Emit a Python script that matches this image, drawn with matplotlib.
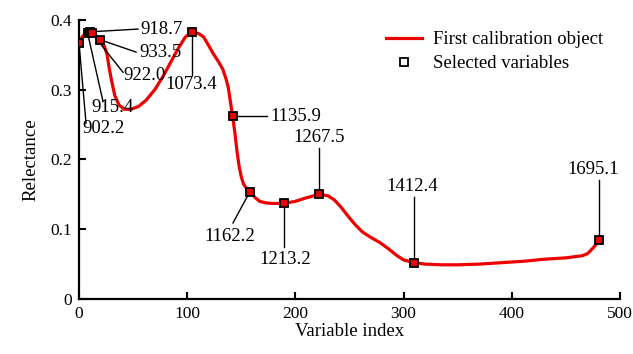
import matplotlib
matplotlib.use('Agg')
import matplotlib.pyplot as plt
from matplotlib.lines import Line2D

plt.rcParams['font.family'] = ['Liberation Serif', 'DejaVu Serif']

# spectrum of the first calibration object
curve_x = [0, 3, 6, 9, 12, 16, 19, 22, 24, 26, 28, 30, 33, 37, 42, 48, 55, 62, 70, 78, 86,
           92, 98, 104, 110, 115, 120, 124, 129, 133, 136, 138, 140, 142, 144, 146, 148,
           150, 152, 155, 158, 163, 167, 172, 178, 189, 200, 210, 222, 230, 236, 242, 248,
           255, 262, 270, 278, 286, 294, 300, 310, 320, 335, 350, 370, 390, 410, 430, 450,
           465, 470, 475, 481]
curve_y = [0.367, 0.376, 0.381, 0.383, 0.381, 0.377, 0.372, 0.368, 0.360, 0.350, 0.330,
           0.314, 0.292, 0.278, 0.272, 0.272, 0.276, 0.285, 0.300, 0.320, 0.343, 0.360,
           0.375, 0.383, 0.381, 0.376, 0.363, 0.352, 0.340, 0.329, 0.315, 0.303, 0.282,
           0.262, 0.239, 0.212, 0.190, 0.175, 0.165, 0.158, 0.154, 0.145, 0.140, 0.138,
           0.137, 0.137, 0.140, 0.145, 0.150, 0.148, 0.142, 0.132, 0.120, 0.107, 0.096,
           0.088, 0.081, 0.072, 0.062, 0.056, 0.052, 0.050, 0.049, 0.049, 0.050, 0.052,
           0.054, 0.057, 0.059, 0.062, 0.065, 0.073, 0.0846]

# selected variables
sel_x = [0, 8, 10, 12, 19, 104, 142, 158, 189, 222, 310, 481]
sel_y = [0.367, 0.381, 0.383, 0.381, 0.372, 0.383, 0.262, 0.154, 0.137, 0.150, 0.052, 0.0846]
sel_labels = ['902.2', '915.4', '918.7', '922.0', '933.5', '1073.4', '1135.9',
              '1162.2', '1213.2', '1267.5', '1412.4', '1695.1']

# label layout: end of leader line, text position, horizontal alignment
leader_end = [(6.5, 0.252), (22.2, 0.283), (54.5, 0.387), (40.7, 0.325), (52.7, 0.354),
              (104, 0.321), (173.8, 0.262), (142.3, 0.109), (189, 0.0746), (222, 0.2165),
              (310, 0.146), (481, 0.171)]
text_pos = [(22.2, 0.244), (30.5, 0.274), (75.8, 0.386), (60.1, 0.321), (74.9, 0.353),
            (104, 0.307), (176.5, 0.262), (139.6, 0.089), (191, 0.056), (222, 0.231),
            (308, 0.161), (475, 0.185)]
text_ha = ['center'] * 6 + ['left'] + ['center'] * 5

fig = plt.figure(figsize=(6.33, 3.54), dpi=100)
ax = fig.add_axes([0.1248, 0.1554, 0.8547, 0.7881])

ax.plot(curve_x, curve_y, color='#ee0000', lw=2.3, zorder=2, solid_capstyle='round',
        solid_joinstyle='round')

for (mx, my), (lx, ly) in zip(zip(sel_x, sel_y), leader_end):
    ax.plot([mx, lx], [my, ly], color='black', lw=1.0, zorder=3)
for lab, (tx, ty), ha in zip(sel_labels, text_pos, text_ha):
    ax.text(tx, ty, lab, ha=ha, va='center', fontsize=13.5, zorder=4)

ax.plot(sel_x, sel_y, ls='none', marker='s', ms=5.5, mfc='#ee0000', mec='black',
        mew=1.3, zorder=5)

ax.set_xlim(0, 500)
ax.set_ylim(0, 0.4)
ax.set_xticks([0, 100, 200, 300, 400, 500])
ax.set_yticks([0, 0.1, 0.2, 0.3, 0.4])
ax.set_yticklabels(['0', '0.1', '0.2', '0.3', '0.4'])
for s in ['top', 'right']:
    ax.spines[s].set_visible(False)
for s in ['left', 'bottom']:
    ax.spines[s].set_linewidth(1.6)
ax.tick_params(direction='in', length=5, width=1.5, labelsize=12.5, pad=5)
ax.set_xlabel('Variable index', fontsize=13.5, labelpad=1)
ax.set_ylabel('Relectance', fontsize=13.5, labelpad=8)

handles = [Line2D([], [], color='#ee0000', lw=2.3),
           Line2D([], [], ls='none', marker='s', ms=6, mfc='none', mec='black', mew=1.3)]
ax.legend(handles, ['First calibration object', 'Selected variables'], loc='upper right',
          bbox_to_anchor=(0.99, 1.0), frameon=False, fontsize=13.5, handlelength=1.9,
          handletextpad=0.6, labelspacing=0.35, borderaxespad=0.2)

fig.savefig('out.png', dpi=100)
